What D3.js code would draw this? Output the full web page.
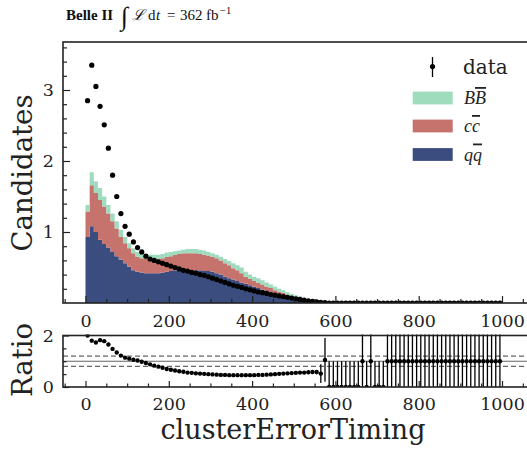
<!DOCTYPE html>
<html><head><meta charset="utf-8">
<script src="https://cdn.jsdelivr.net/npm/d3@7"></script>
<style>body{margin:0;background:#fff} svg{display:block}</style>
</head><body><svg id="c" width="527" height="451"></svg>
<script>
// ---------- data ----------
const binWidth = 10;
const binStarts = d3.range(0, 1000, binWidth);   // 100 bins, 0..1000
const qq = [
0.93,1.08,1.00,0.89,0.83,0.78,0.72,0.66,0.61,0.56,
0.51,0.46,0.44,0.43,0.42,0.42,0.42,0.42,0.43,0.44,
0.45,0.46,0.46,0.46,0.46,0.46,0.46,0.46,0.45,0.45,
0.44,0.42,0.40,0.37,0.35,0.33,0.31,0.29,0.27,0.25,
0.23,0.21,0.19,0.17,0.15,0.13,0.12,0.10,0.09,0.07,
0.06,0.05,0.04,0.03,0.02,0.015,0.01,0.005,0.002,0.002,
0.001,0.001,0.001,0.001,0.001,0.001,0,0.001,0,0.001,
0.001,0.001,0,0,0,0,0,0,0,0,
0,0,0,0,0,0,0,0,0,0,
0,0,0,0,0,0,0,0,0,0];
const cc = [
0.36,0.58,0.55,0.56,0.53,0.48,0.43,0.39,0.32,0.28,
0.26,0.24,0.21,0.20,0.20,0.19,0.19,0.20,0.20,0.21,
0.21,0.22,0.23,0.24,0.24,0.24,0.24,0.23,0.23,0.22,
0.21,0.21,0.20,0.19,0.18,0.16,0.15,0.13,0.10,0.09,
0.08,0.07,0.07,0.06,0.06,0.05,0.04,0.04,0.03,0.03,
0.025,0.02,0.015,0.015,0.01,0.005,0.005,0.003,0,0,
0,0,0,0,0,0,0,0,0,0,
0,0,0,0,0,0,0,0,0,0,
0,0,0,0,0,0,0,0,0,0,
0,0,0,0,0,0,0,0,0,0];
const bb = [
0.09,0.18,0.16,0.17,0.14,0.12,0.11,0.10,0.10,0.09,
0.07,0.07,0.07,0.07,0.07,0.07,0.07,0.06,0.06,0.06,
0.06,0.05,0.05,0.05,0.06,0.06,0.06,0.06,0.06,0.05,
0.05,0.05,0.05,0.06,0.06,0.07,0.07,0.08,0.07,0.06,
0.06,0.07,0.06,0.06,0.05,0.05,0.04,0.04,0.03,0.03,
0.025,0.02,0.015,0.01,0.01,0.01,0.005,0.002,0,0,
0,0,0,0,0,0,0,0,0,0,
0,0,0,0,0,0,0,0,0,0,
0,0,0,0,0,0,0,0,0,0,
0,0,0,0,0,0,0,0,0,0];
const dataVals = [
2.85,3.35,3.05,2.77,2.51,2.18,1.80,1.50,1.26,1.08,
0.97,0.86,0.78,0.72,0.66,0.62,0.60,0.58,0.56,0.54,
0.52,0.50,0.48,0.46,0.45,0.43,0.42,0.40,0.39,0.37,
0.35,0.33,0.31,0.29,0.27,0.25,0.235,0.22,0.20,0.185,
0.17,0.155,0.145,0.135,0.12,0.11,0.10,0.09,0.08,0.07,
0.06,0.05,0.04,0.03,0.022,0.015,0.008,0.004,0,0,
0,0,0,0,0,0,0,0,0,0,
0,0,0,0,0,0,0,0,0,0,
0,0,0,0,0,0,0,0,0,0,
0,0,0,0,0,0,0,0,0,0];
const ratio = [
2.00,1.80,1.73,1.82,1.78,1.65,1.48,1.34,1.22,1.14,
1.10,1.06,1.03,0.98,0.93,0.88,0.83,0.79,0.75,0.70,
0.67,0.64,0.61,0.59,0.56,0.55,0.53,0.52,0.51,0.50,
0.49,0.48,0.47,0.47,0.46,0.46,0.46,0.46,0.46,0.46,
0.46,0.47,0.47,0.48,0.49,0.50,0.51,0.52,0.53,0.54,
0.55,0.56,0.56,0.57,0.58,0.58,0.52,1.05,0,0,
0,0,0,0,0,0,1,0,1,0,
0,0,1,1,1,1,1,1,1,1,
1,1,1,1,1,1,1,1,1,1,
1,1,1,1,1,1,1,1,1,1];
const ratioErr = [
0.04,0.03,0.03,0.03,0.03,0.03,0.03,0.03,0.03,0.03,
0.02,0.02,0.02,0.02,0.02,0.02,0.02,0.02,0.02,0.02,
0.02,0.02,0.02,0.02,0.02,0.02,0.02,0.02,0.02,0.02,
0.02,0.02,0.02,0.02,0.02,0.02,0.02,0.02,0.02,0.02,
0.03,0.03,0.03,0.03,0.03,0.03,0.03,0.03,0.03,0.03,
0.04,0.04,0.04,0.05,0.06,0.08,0.36,0.85,1,1,
1,1,1,1,1,1,1.5,1,1.5,1,
1,1,1.5,1.5,1.5,1.5,1.5,1.5,1.5,1.5,
1.5,1.5,1.5,1.5,1.5,1.5,1.5,1.5,1.5,1.5,
1.5,1.5,1.5,1.5,1.5,1.5,1.5,1.5,1.5,1.5];
const xTickValues = [0,200,400,600,800,1000];
const yMainTicks = [1,2,3];
const yRatioTicks = [0,2];
const ratioRefLines = [0.8,1.0,1.2];
const seriesKeys = ['qq','cc','bb'];
const seriesColors = {qq:'#3b4c7f', cc:'#c6726d', bb:'#9edcbd'};

// ---------- layout ----------
const W=527,H=451;
const L=63, R=560, mainTop=42, mainBot=303, ratTop=335.5, ratBot=387;
const frameColor='#222';
const svg=d3.select('#c');
svg.append('rect').attr('width',W).attr('height',H).attr('fill','#fff');

const x=d3.scaleLinear().domain([0,1000]).range([85.5,502]);
const y=d3.scaleLinear().domain([0,3]).range([mainBot,90]);
const yr=d3.scaleLinear().domain([0,2]).range([ratBot,ratTop]);

const defs=svg.append('defs');
defs.append('clipPath').attr('id','cm').append('rect').attr('x',L).attr('y',mainTop).attr('width',R-L).attr('height',mainBot-mainTop);
defs.append('clipPath').attr('id','cr').append('rect').attr('x',L).attr('y',ratTop-1).attr('width',R-L).attr('height',ratBot-ratTop+1);

// ---------- main panel ----------
const rows=binStarts.map((b,i)=>({bin:b,qq:qq[i],cc:cc[i],bb:bb[i]}));
const stacked=d3.stack().keys(seriesKeys)(rows);
const gMain=svg.append('g').attr('clip-path','url(#cm)');
const area=d3.area().curve(d3.curveStepAfter)
  .x(d=>x(d.x)).y0(d=>y(d.y0)).y1(d=>y(d.y1));
stacked.forEach(layer=>{
  const pts=layer.map((d,i)=>({x:binStarts[i],y0:d[0],y1:d[1]}));
  const last=layer[layer.length-1];
  pts.push({x:binStarts[binStarts.length-1]+binWidth,y0:last[0],y1:last[1]});
  gMain.append('path').attr('d',area(pts)).attr('fill',seriesColors[layer.key]).attr('stroke','none');
});
gMain.selectAll('circle.d').data(dataVals).join('circle')
  .attr('cx',(d,i)=>x(binStarts[i]+binWidth/2)).attr('cy',d=>y(d)).attr('r',2.6).attr('fill','#000');

// axes
function styleAxis(g){
  g.attr('font-family','DejaVu Serif').attr('font-size',17.5);
  g.select('.domain').remove();
  g.selectAll('line').attr('stroke',frameColor).attr('stroke-width',1.2);
  g.selectAll('text').attr('fill','#222').style('font-family',"'DejaVu Serif', serif").style('font-size','17.5px');
}
const minorX=d3.range(-50,1101,50).filter(v=>v%200!==0);
svg.append('g').attr('transform',`translate(0,${mainBot})`)
  .call(d3.axisBottom(x).tickValues(xTickValues).tickSizeInner(-7).tickSizeOuter(0).tickPadding(12).tickFormat(d3.format('d'))).call(styleAxis);
svg.append('g').attr('transform',`translate(0,${mainBot})`)
  .call(d3.axisBottom(x).tickValues(minorX.filter(v=>x(v)>L+1)).tickSizeInner(-4).tickSizeOuter(0).tickFormat('')).call(styleAxis);
svg.append('g').attr('transform',`translate(${L},0)`)
  .call(d3.axisLeft(y).tickValues(yMainTicks).tickSizeInner(-7).tickSizeOuter(0).tickPadding(9).tickFormat(d3.format('d'))).call(styleAxis);
svg.append('g').attr('transform',`translate(${L},0)`)
  .call(d3.axisLeft(y).tickValues(d3.range(0.2,3.61,0.2).filter(v=>Math.abs(v-Math.round(v))>0.01)).tickSizeInner(-4).tickSizeOuter(0).tickFormat('')).call(styleAxis);
svg.append('rect').attr('x',L).attr('y',mainTop).attr('width',R-L).attr('height',mainBot-mainTop)
  .attr('fill','none').attr('stroke',frameColor).attr('stroke-width',1.6);

// ---------- ratio panel ----------
const gR=svg.append('g').attr('clip-path','url(#cr)');
ratioRefLines.forEach(v=>{
  gR.append('line').attr('x1',L).attr('x2',R).attr('y1',yr(v)).attr('y2',yr(v))
    .attr('stroke','#666').attr('stroke-width',1.2).attr('stroke-dasharray',v===1?null:'5,3');
});
gR.selectAll('line.e').data(ratio).join('line').attr('class','e')
  .attr('x1',(d,i)=>x(binStarts[i]+binWidth/2)).attr('x2',(d,i)=>x(binStarts[i]+binWidth/2))
  .attr('y1',(d,i)=>yr(d-ratioErr[i])).attr('y2',(d,i)=>yr(d+ratioErr[i]))
  .attr('stroke','#000').attr('stroke-width',1.3);
gR.selectAll('circle.r').data(ratio).join('circle').attr('class','r')
  .attr('cx',(d,i)=>x(binStarts[i]+binWidth/2)).attr('cy',d=>yr(d)).attr('r',2.2).attr('fill','#000');

svg.append('g').attr('transform',`translate(0,${ratBot})`)
  .call(d3.axisBottom(x).tickValues(xTickValues).tickSizeInner(-6).tickSizeOuter(0).tickPadding(11).tickFormat(d3.format('d'))).call(styleAxis);
svg.append('g').attr('transform',`translate(0,${ratBot})`)
  .call(d3.axisBottom(x).tickValues(minorX.filter(v=>x(v)>L+1)).tickSizeInner(-3.5).tickSizeOuter(0).tickFormat('')).call(styleAxis);
svg.append('g').attr('transform',`translate(${L},0)`)
  .call(d3.axisLeft(yr).tickValues(yRatioTicks).tickSizeInner(-6).tickSizeOuter(0).tickPadding(9).tickFormat(d3.format('d'))).call(styleAxis);
svg.append('g').attr('transform',`translate(${L},0)`)
  .call(d3.axisLeft(yr).tickValues([0.5,1,1.5]).tickSizeInner(-3.5).tickSizeOuter(0).tickFormat('')).call(styleAxis);
svg.append('rect').attr('x',L).attr('y',ratTop).attr('width',R-L).attr('height',ratBot-ratTop)
  .attr('fill','none').attr('stroke',frameColor).attr('stroke-width',1.6);

// ---------- labels ----------
svg.append('text').attr('x',293).attr('y',439).attr('text-anchor','middle')
  .attr('font-family','DejaVu Serif').attr('font-size',27).attr('fill','#222').text('clusterErrorTiming');
svg.append('text').attr('transform','translate(32,173) rotate(-90)').attr('text-anchor','middle')
  .attr('font-family','DejaVu Serif').attr('font-size',27.5).attr('fill','#222').text('Candidates');
svg.append('text').attr('transform','translate(32,360) rotate(-90)').attr('text-anchor','middle')
  .attr('font-family','DejaVu Serif').attr('font-size',27.5).attr('fill','#222').text('Ratio');

// title
const t=svg.append('text').attr('y',20).attr('font-family','Liberation Serif').attr('fill','#111').attr('font-size',15);
t.append('tspan').attr('x',66).attr('font-weight','bold').attr('font-size',15).text('Belle II');
t.append('tspan').attr('x',121).attr('font-size',26).attr('dy',5).text('∫');
t.append('tspan').attr('x',132).attr('dy',-5).attr('font-style','italic').text('ℒ');
t.append('tspan').attr('x',148).text('d');
t.append('tspan').attr('x',156).attr('font-style','italic').text('t');
t.append('tspan').attr('x',167).text('=');
t.append('tspan').attr('x',180).text('362');
t.append('tspan').attr('x',206).text('fb');
t.append('tspan').attr('x',220).attr('dy',-6).attr('font-size',10.5).text('−1');

// legend
const lg=svg.append('g');
lg.append('line').attr('x1',432.5).attr('x2',432.5).attr('y1',57).attr('y2',77).attr('stroke','#000').attr('stroke-width',1.3);
lg.append('circle').attr('cx',432.5).attr('cy',66.5).attr('r',2.6).attr('fill','#000');
lg.append('text').attr('x',463).attr('y',73.5).attr('font-family','DejaVu Serif').attr('font-size',20).attr('fill','#222').text('data');
const legendItems=[{key:'bb',a:'B',b:'B',cy:98},{key:'cc',a:'c',b:'c',cy:126},{key:'qq',a:'q',b:'q',cy:154.5}];
legendItems.forEach(it=>{
  lg.append('rect').attr('x',412.7).attr('y',it.cy-6.4).attr('width',40).attr('height',12.8).attr('fill',seriesColors[it.key]);
  const tx=lg.append('text').attr('x',464).attr('y',it.cy+6).attr('font-family','Liberation Serif').attr('font-style','italic')
    .attr('font-size',18).attr('fill','#222');
  tx.append('tspan').text(it.a);
  tx.append('tspan').attr('text-decoration','overline').style('text-decoration','overline').text(it.b);
});
</script></body></html>
